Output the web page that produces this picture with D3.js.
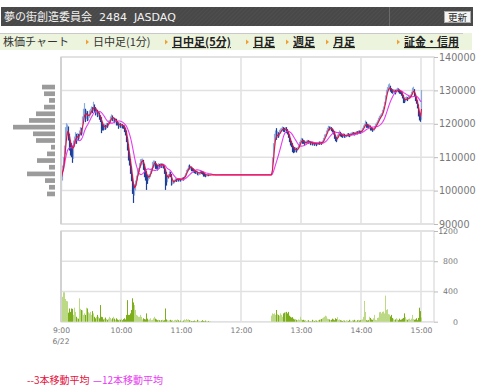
<!DOCTYPE html>
<html>
<head>
<meta charset="utf-8">
<script src="https://cdn.jsdelivr.net/npm/d3@7"></script>
<style>
  body { margin: 0; background: #fff; }
  svg text { font-family: "Noto Sans CJK JP", "DejaVu Sans", sans-serif; }
  svg text.lat { font-family: "DejaVu Sans", "Noto Sans CJK JP", sans-serif; }
  .pre { white-space: pre; }
</style>
</head>
<body>
<svg id="chart" width="480" height="389"></svg>
<script>
// ---- data (prices in units of 100 yen) ----
const title = "夢の街創造委員会  2484  JASDAQ";
const navLabels = ["日中足(1分)", "日中足(5分)", "日足", "週足", "月足", "証金・信用"];
const navLinked = [false, true, true, true, true, true];

// morning 9:00-11:29, one value per minute
const amClose = [
  1040,1068,1085,1120,1165,1178,1186,1165,1140,1135,
  1128,1118,1140,1152,1165,1155,1165,1160,1172,1180,
  1178,1208,1228,1236,1222,1232,1220,1224,1233,1236,
  1244,1242,1256,1246,1238,1240,1230,1231,1222,1218,
  1198,1196,1188,1194,1190,1197,1196,1204,1206,1217,
  1222,1216,1216,1210,1213,1203,1202,1194,1199,1195,
  1197,1194,1193,1185,1177,1158,1138,1108,1092,1070,
  1045,1015,1005,1008,1025,1038,1058,1060,1078,1088,
  1090,1090,1078,1060,1055,1042,1038,1042,1046,1056,
  1063,1080,1080,1086,1078,1075,1070,1078,1075,1079,
  1076,1078,1075,1060,1054,1030,1043,1045,1054,1048,
  1024,1026,1028,1030,1034,1032,1036,1033,1034,1033,
  1036,1038,1036,1043,1049,1058,1062,1071,1070,1071,
  1066,1065,1061,1059,1056,1056,1052,1053,1053,1057,
  1056,1055,1050,1049,1046,1047,1047,1046,1047,1047
];
const amHigh = [
  1053,1075,1100,1135,1190,1202,1198,1192,1170,1150,
  1142,1135,1150,1162,1175,1170,1172,1170,1180,1190,
  1188,1222,1245,1262,1245,1240,1238,1230,1240,1245,
  1252,1250,1266,1258,1250,1246,1242,1236,1234,1225,
  1220,1205,1198,1200,1197,1203,1202,1210,1212,1222,
  1228,1225,1220,1218,1217,1215,1208,1204,1204,1202,
  1200,1199,1196,1195,1188,1180,1160,1140,1112,1095,
  1072,1048,1020,1018,1030,1045,1062,1068,1082,1094,
  1095,1096,1092,1080,1062,1058,1046,1048,1050,1060,
  1068,1086,1090,1090,1088,1080,1077,1082,1080,1082,
  1081,1082,1080,1077,1062,1056,1047,1050,1058,1056,
  1050,1030,1032,1033,1037,1036,1038,1037,1036,1036,
  1038,1040,1040,1045,1052,1062,1066,1075,1078,1074,
  1072,1068,1066,1062,1060,1058,1057,1055,1056,1059,
  1059,1058,1056,1051,1050,1049,1049,1048,1048,1048
];
const amLow = [
  1002,1030,1060,1078,1110,1150,1165,1150,1120,1105,
  1100,1083,1095,1130,1140,1140,1148,1150,1155,1165,
  1165,1170,1200,1220,1205,1215,1208,1210,1218,1225,
  1230,1232,1238,1235,1225,1228,1220,1222,1212,1205,
  1172,1180,1180,1182,1182,1185,1188,1192,1198,1202,
  1210,1208,1206,1202,1205,1195,1195,1185,1190,1188,
  1188,1186,1185,1175,1165,1145,1120,1090,1075,1050,
  1028,990,963,985,1000,1015,1030,1045,1055,1068,
  1075,1078,1062,1040,1030,1002,1020,1030,1035,1040,
  1050,1058,1068,1072,1065,1065,1060,1062,1066,1068,
  1068,1068,1066,1050,1002,1015,1025,1035,1040,1040,
  1015,1018,1020,1022,1026,1026,1028,1027,1028,1027,
  1030,1032,1030,1033,1040,1045,1055,1058,1063,1063,
  1058,1058,1054,1052,1050,1050,1046,1045,1047,1048,
  1050,1048,1042,1042,1040,1042,1043,1043,1044,1045
];
const amVol = [
  1150,330,390,390,300,275,270,120,175,130,
  175,170,90,185,130,65,45,40,310,170,
  155,150,90,110,90,185,175,125,110,130,
  90,140,110,65,45,65,90,65,45,220,
  65,60,30,40,55,35,25,40,65,50,
  30,45,65,40,25,45,30,20,30,25,
  40,20,35,45,30,90,285,90,90,110,
  155,310,255,220,155,90,80,65,65,90,
  65,30,45,35,30,110,40,25,30,45,
  20,25,45,65,40,30,20,25,20,15,
  20,25,15,20,175,30,20,15,20,25,
  15,20,10,20,25,15,30,20,10,15,
  5,10,15,30,20,35,25,30,20,15,
  10,5,10,15,5,10,25,15,10,5,
  10,20,10,5,15,10,5,10,5,5
];

// afternoon 12:30-15:00, one value per minute
const pmClose = [
  1050,1090,1130,1158,1168,1160,1170,1165,1175,1180,
  1182,1186,1183,1182,1186,1180,1176,1165,1152,1142,
  1140,1128,1126,1122,1124,1120,1126,1130,1142,1146,
  1153,1148,1147,1141,1144,1146,1149,1145,1146,1142,
  1143,1140,1143,1139,1142,1138,1141,1143,1142,1144,
  1142,1146,1152,1162,1164,1174,1182,1188,1186,1188,
  1184,1180,1176,1163,1155,1152,1162,1168,1174,1168,
  1166,1164,1168,1163,1164,1165,1168,1167,1165,1169,
  1170,1172,1171,1170,1173,1175,1174,1177,1176,1175,
  1179,1184,1190,1196,1201,1196,1195,1192,1193,1187,
  1186,1182,1183,1188,1196,1198,1206,1212,1219,1222,
  1226,1236,1246,1260,1278,1296,1303,1308,1310,1304,
  1300,1297,1298,1298,1295,1300,1303,1300,1297,1296,
  1292,1284,1270,1269,1276,1276,1273,1279,1280,1283,
  1290,1300,1302,1288,1275,1268,1254,1230,1220,1215,
  1298
];
const pmHigh = [
  1052,1100,1142,1170,1180,1187,1178,1175,1182,1186,
  1188,1192,1190,1188,1190,1190,1184,1178,1168,1156,
  1148,1142,1132,1130,1130,1128,1130,1136,1146,1152,
  1158,1156,1152,1150,1148,1150,1152,1151,1150,1148,
  1147,1146,1146,1145,1145,1144,1145,1146,1147,1147,
  1146,1150,1158,1168,1170,1180,1188,1194,1192,1192,
  1190,1186,1182,1178,1166,1160,1168,1172,1180,1176,
  1171,1170,1172,1170,1168,1169,1172,1172,1170,1173,
  1174,1176,1175,1174,1176,1178,1178,1180,1180,1179,
  1182,1188,1195,1200,1210,1206,1200,1198,1198,1195,
  1190,1188,1187,1192,1200,1204,1210,1218,1224,1228,
  1232,1242,1252,1266,1285,1302,1310,1318,1321,1314,
  1306,1303,1304,1303,1302,1305,1308,1306,1303,1300,
  1298,1294,1286,1275,1280,1282,1280,1284,1285,1288,
  1296,1308,1311,1304,1290,1280,1270,1258,1236,1226,
  1301
];
const pmLow = [
  1045,1048,1085,1125,1155,1152,1158,1158,1162,1170,
  1175,1178,1176,1175,1178,1172,1168,1158,1145,1135,
  1130,1115,1112,1114,1116,1114,1118,1124,1128,1140,
  1144,1140,1140,1136,1138,1140,1142,1140,1140,1136,
  1137,1135,1136,1134,1136,1133,1136,1137,1137,1138,
  1137,1140,1144,1150,1157,1162,1172,1180,1180,1182,
  1178,1174,1168,1155,1148,1145,1150,1160,1165,1162,
  1160,1158,1160,1158,1158,1160,1162,1162,1160,1162,
  1164,1166,1166,1165,1167,1170,1168,1171,1171,1170,
  1172,1176,1182,1188,1194,1188,1188,1186,1186,1180,
  1180,1176,1178,1180,1186,1192,1196,1204,1210,1216,
  1220,1224,1234,1244,1258,1275,1292,1298,1302,1296,
  1292,1290,1292,1292,1288,1292,1296,1294,1290,1289,
  1284,1276,1262,1262,1265,1270,1268,1272,1274,1276,
  1280,1288,1294,1282,1268,1260,1246,1222,1210,1206,
  1212
];
const pmVol = [
  80,110,100,110,90,155,100,90,80,110,
  90,65,110,120,125,130,110,130,80,65,
  55,60,40,30,35,25,20,30,25,65,
  30,20,25,15,20,10,15,20,10,5,
  10,25,15,10,20,15,10,20,25,30,
  35,45,55,65,80,70,40,35,30,20,
  25,40,30,20,45,35,60,25,30,20,
  15,10,20,15,10,20,15,10,25,15,
  10,20,15,25,15,10,20,25,15,20,
  25,30,65,275,130,20,15,20,65,50,
  30,25,45,90,25,20,50,55,125,130,
  110,130,135,110,345,155,165,100,95,70,
  90,50,40,25,30,45,30,20,40,25,
  30,40,50,110,60,30,25,35,40,25,
  40,90,35,25,30,45,20,50,185,140,
  55
];

// price-by-volume (left side), bins of 2000 yen
const profilePrices = [1310,1290,1270,1250,1230,1210,1190,1170,1150,1130,1110,1090,1070,1050,1030,1010,990];
const profileVol = [13,11,6,11,19,26,42,22,19,4,8,18,6,28,10,6,8];

const priceTicks = [90000,100000,110000,120000,130000,140000];
const volTicks = [0,400,800,1200];
const timeTicks = [0,60,120,180,240,300,360];
const timeLabels = ["9:00","10:00","11:00","12:00","13:00","14:00","15:00"];
const dateLabel = "6/22";
const maNames = ["--3本移動平均", "—12本移動平均"];
const maPeriods = [3, 12];

// ---- build minute timeline (lunch carries last price) ----
const amStart = 0, pmStart = 210;
const bars = [];
amClose.forEach((c, i) => bars.push({ m: amStart + i, c: c * 100, h: amHigh[i] * 100, l: amLow[i] * 100, v: amVol[i] }));
pmClose.forEach((c, i) => bars.push({ m: pmStart + i, c: c * 100, h: pmHigh[i] * 100, l: pmLow[i] * 100, v: pmVol[i] }));
bars.forEach((b, i) => { b.o = i === 0 ? b.c : bars[i - 1].c; });

const series = [];   // close per minute, lunch included
let last = bars[0].c, bi = 0;
for (let m = 0; m <= 360; m++) {
  if (bi < bars.length && bars[bi].m === m) { last = bars[bi].c; bi++; }
  series.push({ m: m, c: last });
}
function sma(n) {
  return series.map((d, i) => {
    const w = series.slice(Math.max(0, i - n + 1), i + 1);
    return { m: d.m, v: d3.mean(w, e => e.c) };
  });
}

// ---- drawing ----
const svg = d3.select("#chart");

// header bar
const defs = svg.append("defs");
const pat = defs.append("pattern").attr("id", "stripe").attr("width", 3).attr("height", 3)
  .attr("patternUnits", "userSpaceOnUse").attr("patternTransform", "rotate(45)");
pat.append("rect").attr("width", 3).attr("height", 3).attr("fill", "#484848");
pat.append("line").attr("x1", 0).attr("y1", 0).attr("x2", 0).attr("y2", 3).attr("stroke", "#545454").attr("stroke-width", 1);

svg.append("rect").attr("x", 1).attr("y", 7).attr("width", 472).attr("height", 19).attr("fill", "url(#stripe)");
svg.append("line").attr("x1", 389.5).attr("x2", 389.5).attr("y1", 7).attr("y2", 26).attr("stroke", "#6a6a6a");
svg.append("text").attr("class", "pre lat").attr("x", 4).attr("y", 21).attr("fill", "#f2f2f2").attr("font-size", 11)
  .text(title);
svg.append("rect").attr("x", 444.5).attr("y", 11.5).attr("width", 26).attr("height", 11)
  .attr("fill", "#f4f4f4").attr("stroke", "#aaa");
svg.append("text").attr("x", 457.5).attr("y", 21).attr("text-anchor", "middle").attr("font-size", 9.5)
  .attr("fill", "#222").text("更新");

// nav bar
svg.append("rect").attr("x", 0).attr("y", 33).attr("width", 472).attr("height", 17).attr("fill", "#edf4de");
svg.append("line").attr("x1", 0).attr("x2", 463).attr("y1", 33.5).attr("y2", 33.5).attr("stroke", "#c9c9c9");
svg.append("text").attr("x", 3).attr("y", 46).attr("font-size", 11).attr("fill", "#333").text("株価チャート");
const navX = [93, 172, 253, 293, 333, 404];
navLabels.forEach((t, i) => {
  svg.append("path").attr("d", `M${navX[i] - 7},${39.5} l3,2.5 l-3,2.5 z`).attr("fill", "#f0a030");
  svg.append("text").attr("x", navX[i]).attr("y", 46).attr("font-size", 11)
    .attr("fill", navLinked[i] ? "#222" : "#333")
    .attr("font-weight", navLinked[i] ? "bold" : "normal")
    .attr("text-decoration", navLinked[i] ? "underline" : "none")
    .text(t);
});

// scales
const x = d3.scaleLinear().domain([0, 373]).range([61, 434]);
const yP = d3.scaleLinear().domain([90000, 140000]).range([224, 57]);
const yV = d3.scaleLinear().domain([0, 1200]).range([321.7, 231]);
const wProf = d3.scaleLinear().domain([0, 42]).range([0, 42]);

const grid = "#e1e1e1";
function panel(y0, y1) {
  const g = svg.append("g");
  g.append("rect").attr("x", 61).attr("y", y0).attr("width", 373).attr("height", y1 - y0)
    .attr("fill", "#fff").attr("stroke", grid).attr("stroke-width", 1.5);
  timeTicks.slice(1).forEach(t => {
    g.append("line").attr("x1", x(t)).attr("x2", x(t)).attr("y1", y0).attr("y2", y1)
      .attr("stroke", grid).attr("stroke-width", 1.5);
  });
  return g;
}
const pg = panel(57, 224);
const vg = panel(231, 321.7);

priceTicks.forEach(p => pg.append("line").attr("x1", 61).attr("x2", 434).attr("y1", yP(p)).attr("y2", yP(p))
  .attr("stroke", grid).attr("stroke-width", 1.5));
volTicks.forEach(v => vg.append("line").attr("x1", 61).attr("x2", 434).attr("y1", yV(v)).attr("y2", yV(v))
  .attr("stroke", grid).attr("stroke-width", 1.5));
// left panel edge darker
[[57, 224], [231, 321.7]].forEach(([a, b]) => svg.append("line").attr("x1", 61).attr("x2", 61)
  .attr("y1", a).attr("y2", b).attr("stroke", "#d2d2d2").attr("stroke-width", 2));

// price-by-volume bars
svg.append("g").selectAll("rect").data(profilePrices).join("rect")
  .attr("x", (p, i) => 55 - wProf(profileVol[i]))
  .attr("y", p => yP(p * 100 + 700))
  .attr("width", (p, i) => wProf(profileVol[i]))
  .attr("height", p => yP(p * 100 - 700) - yP(p * 100 + 700))
  .attr("fill", "#9b9b9b");

// volume bars
vg.append("g").selectAll("rect").data(bars).join("rect")
  .attr("x", d => x(d.m))
  .attr("y", d => yV(d.v))
  .attr("width", 1)
  .attr("height", d => yV(0) - yV(d.v))
  .attr("fill", d => d.c >= d.o ? "#bcd985" : "#7cae1c");

// candles (1px)
pg.append("g").selectAll("line").data(bars).join("line")
  .attr("x1", d => x(d.m) + 0.5).attr("x2", d => x(d.m) + 0.5)
  .attr("y1", d => yP(Math.max(d.h, d.o, d.c)))
  .attr("y2", d => yP(Math.min(d.l, d.o, d.c)))
  .attr("stroke", d => d.c >= d.o ? "#8eabdf" : "#1d3f98")
  .attr("stroke-width", 1.2);

// moving averages
const maColors = ["#e3123e", "#e63cf0"];
const line = d3.line().x(d => x(d.m) + 0.5).y(d => yP(d.v));
[1, 0].forEach(k => {
  pg.append("path").datum(sma(maPeriods[k])).attr("d", line)
    .attr("fill", "none").attr("stroke", maColors[k]).attr("stroke-width", 1.1);
});

// right axes
const axP = svg.append("g").attr("transform", "translate(434,0)")
  .call(d3.axisRight(yP).tickValues(priceTicks).tickSize(4).tickPadding(1).tickFormat(d3.format("d")));
axP.select(".domain").remove();
axP.selectAll("line").attr("stroke", "#bbb");
axP.selectAll("text").attr("class", "lat").attr("fill", "#777").attr("font-size", 9.6);

const axV = svg.append("g").attr("transform", "translate(434,0)")
  .call(d3.axisRight(yV).tickValues(volTicks).tickSize(4).tickFormat(d3.format("d")));
axV.select(".domain").remove();
axV.selectAll("line").attr("stroke", "#bbb");
axV.selectAll("text").attr("class", "lat").attr("fill", "#777").attr("font-size", 7.8)
  .attr("text-anchor", "end").attr("x", 24);

// time axis
const axT = svg.append("g").attr("transform", "translate(0,322)")
  .call(d3.axisBottom(x).tickValues(timeTicks).tickSize(0).tickPadding(6)
    .tickFormat((d, i) => timeLabels[i]));
axT.select(".domain").remove();
axT.selectAll("text").attr("class", "lat").attr("fill", "#777").attr("font-size", 7.6);
svg.append("text").attr("class", "lat").attr("x", x(0)).attr("y", 344).attr("text-anchor", "middle")
  .attr("fill", "#777").attr("font-size", 7.6).text(dateLabel);

// legend
svg.append("text").attr("x", 27).attr("y", 384).attr("font-size", 10).attr("fill", maColors[0]).text(maNames[0]);
svg.append("text").attr("x", 93).attr("y", 384).attr("font-size", 10).attr("fill", maColors[1]).text(maNames[1]);
</script>
</body>
</html>
